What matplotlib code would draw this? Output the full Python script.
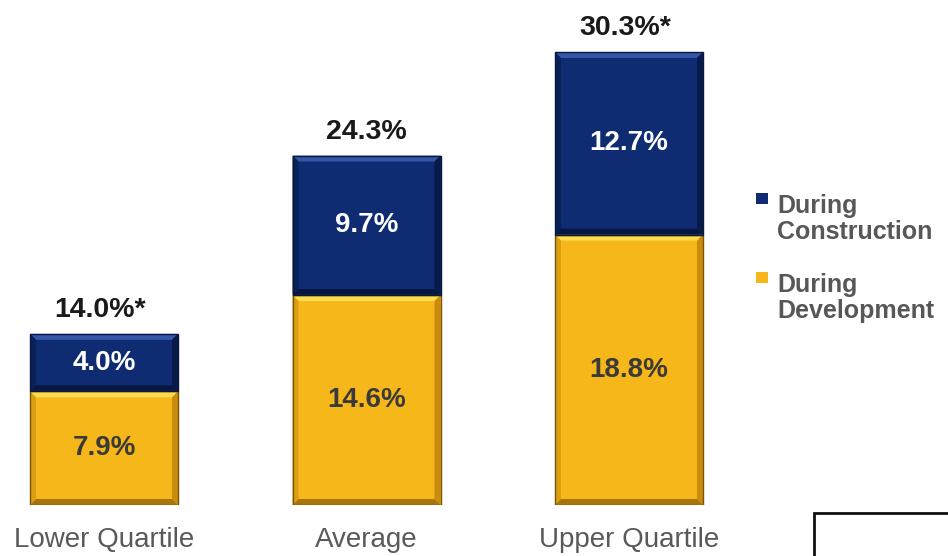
import matplotlib
matplotlib.use("Agg")
import matplotlib.pyplot as plt
from matplotlib.patches import Polygon, Rectangle

categories = ["Lower Quartile", "Average", "Upper Quartile"]
development = [7.9, 14.6, 18.8]
construction = [4.0, 9.7, 12.7]
totals = [14.0, 24.3, 30.3]
total_marks = ["*", "", "*"]
series_names = ["During\nConstruction", "During\nDevelopment"]

W, H = 948, 556
PX_X = 262.5      # pixels per category step
PX_Y = 14.38      # pixels per percentage point
BASE = 51         # pixels from the bottom edge to the bar baseline
BAR_W = 148 / PX_X

plt.rcParams["font.family"] = ["Liberation Sans", "DejaVu Sans"]

fig = plt.figure(figsize=(W / 100, H / 100), dpi=100)
ax = fig.add_axes([0, BASE / H, 1, (H - BASE) / H])
ax.set_xlim(-104 / PX_X, (W - 104) / PX_X)
ax.set_ylim(0, (H - BASE) / PX_Y)
ax.axis("off")

NAVY = dict(base="#0f2c72", top="#3556a6", left="#0a2158", right="#081a48",
            bottom="#061640", edge="#07173f")
GOLD = dict(base="#f6b71b", top="#ffdc4e", left="#dc9f14", right="#c98c0c",
            bottom="#a8750a", edge="#7a5406")


def bevel(x, bottom, height, pal, bpx=6):
    bx, by = bpx / PX_X, bpx / PX_Y
    x0, x1 = x - BAR_W / 2, x + BAR_W / 2
    y0, y1 = bottom, bottom + height
    faces = [
        ([(x0, y1), (x1, y1), (x1 - bx, y1 - by), (x0 + bx, y1 - by)], pal["top"]),
        ([(x0, y0), (x0, y1), (x0 + bx, y1 - by), (x0 + bx, y0 + by)], pal["left"]),
        ([(x1, y0), (x1, y1), (x1 - bx, y1 - by), (x1 - bx, y0 + by)], pal["right"]),
        ([(x0, y0), (x1, y0), (x1 - bx, y0 + by), (x0 + bx, y0 + by)], pal["bottom"]),
    ]
    for pts, c in faces:
        ax.add_patch(Polygon(pts, closed=True, facecolor=c, edgecolor="none", zorder=3))
    ax.add_patch(Rectangle((x0, y0), BAR_W, height, facecolor="none",
                           edgecolor=pal["edge"], linewidth=1.0, zorder=4))


xs = list(range(len(categories)))
ax.bar(xs, development, width=BAR_W, color=GOLD["base"], zorder=2)
ax.bar(xs, construction, width=BAR_W, bottom=development, color=NAVY["base"], zorder=2)

for i in xs:
    d, c = development[i], construction[i]
    bevel(i, 0, d, GOLD)
    bevel(i, d, c, NAVY)
    ax.text(i, d / 2, f"{d:.1f}%", ha="center", va="center", fontsize=20,
            fontweight="bold", color="#3a3a3a", zorder=5)
    ax.text(i, d + c / 2, f"{c:.1f}%", ha="center", va="center", fontsize=20,
            fontweight="bold", color="white", zorder=5)
    ax.annotate(f"{totals[i]:.1f}%{total_marks[i]}", (i, d + c),
                xytext=(-3 if total_marks[i] else 0, 17), textcoords="offset points",
                ha="center", va="center", fontsize=20.5, fontweight="bold",
                color="#1a1a1a", annotation_clip=False)
    ax.annotate(categories[i], (i, 0), xytext=(0, -25), textcoords="offset points",
                ha="center", va="center", fontsize=20, color="#595959",
                annotation_clip=False)

# legend, drawn in figure pixels
def fig_px(x, y_top):
    return x / W, 1 - y_top / H

legend_y = [193, 272]
legend_cols = [NAVY["base"], GOLD["base"]]
for name, y, col in zip(series_names, legend_y, legend_cols):
    fx, fy = fig_px(756, y + 11)
    fig.add_artist(Rectangle((fx, fy), 12 / W, 11 / H, transform=fig.transFigure,
                             facecolor=col, edgecolor="none"))
    tx, ty = fig_px(777, y + 1)
    fig.text(tx, ty, name, ha="left", va="top", fontsize=18, fontweight="bold",
             color="#575757", linespacing=1.12)

# framed box in the lower right corner
bx, by = fig_px(814, H + 5)
fig.add_artist(Rectangle((bx, by), (W - 814 + 10) / W, (H + 5 - 513) / H,
                         transform=fig.transFigure, facecolor="white",
                         edgecolor="#111111", linewidth=2.0))

fig.savefig("out.png", dpi=100)
